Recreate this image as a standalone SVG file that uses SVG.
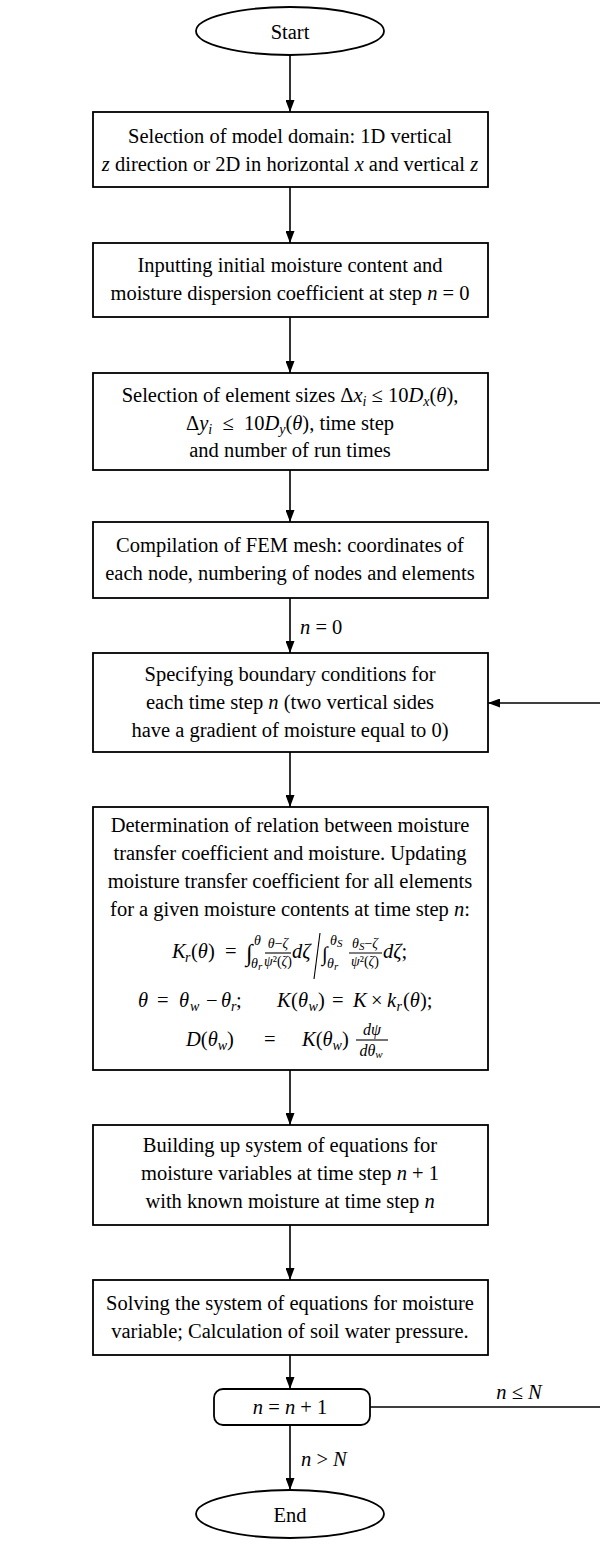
<svg xmlns="http://www.w3.org/2000/svg" width="600" height="1548" viewBox="0 0 600 1548">
<defs>
<marker id="ah" markerWidth="12" markerHeight="9" refX="12" refY="4.5" orient="auto" markerUnits="userSpaceOnUse"><path d="M0,0 L12,4.5 L0,9 z" fill="#000"/></marker>
<style>
.node{fill:#fff;stroke:#000;stroke-width:1.8}
.lbl{font-family:"Liberation Serif","Times New Roman",serif;font-size:20.5px;fill:#000;text-anchor:middle}
.m{font-family:"Liberation Serif","Times New Roman",serif;font-size:20.5px;fill:#000}
.c{text-anchor:middle}
.sm{font-size:14px}
.fr{font-size:16px}
.xs{font-size:11px}
.i{font-style:italic}
.edge{fill:none;stroke:#000;stroke-width:1.6}
.bar{stroke:#000;stroke-width:1.1}
</style>
</defs>
<rect width="600" height="1548" fill="#fff"/>

<!-- connectors -->
<g id="connectors">
<line class="edge" x1="290" y1="55" x2="290" y2="112" marker-end="url(#ah)"/>
<line class="edge" x1="290" y1="187" x2="290" y2="243" marker-end="url(#ah)"/>
<line class="edge" x1="290" y1="317" x2="290" y2="373" marker-end="url(#ah)"/>
<line class="edge" x1="290" y1="470" x2="290" y2="522" marker-end="url(#ah)"/>
<line class="edge" x1="290" y1="598" x2="290" y2="653" marker-end="url(#ah)"/>
<text class="m" x="300" y="634"><tspan class="i">n</tspan> = 0</text>
<line class="edge" x1="290" y1="752" x2="290" y2="807" marker-end="url(#ah)"/>
<line class="edge" x1="290" y1="1070" x2="290" y2="1125" marker-end="url(#ah)"/>
<line class="edge" x1="290" y1="1225" x2="290" y2="1280" marker-end="url(#ah)"/>
<line class="edge" x1="290" y1="1355" x2="290" y2="1389" marker-end="url(#ah)"/>
<line class="edge" x1="290" y1="1425" x2="290" y2="1490" marker-end="url(#ah)"/>
<text class="m" x="301" y="1466"><tspan class="i">n</tspan> &gt; <tspan class="i">N</tspan></text>
<polyline class="edge" points="370,1407 601,1407 601,703 488,703" marker-end="url(#ah)"/>
<text class="m c" x="519" y="1399"><tspan class="i">n</tspan> ≤ <tspan class="i">N</tspan></text>
</g>

<g id="start">
<ellipse class="node" cx="290" cy="31" rx="94" ry="24"/>
<text class="lbl" x="290" y="39">Start</text>
</g>

<g id="domain">
<rect class="node" x="93" y="112" width="395" height="75"/>
<text class="lbl" x="290" y="143">Selection of model domain: 1D vertical</text>
<text class="lbl" x="290" y="171"><tspan class="i">z</tspan> direction or 2D in horizontal <tspan class="i">x</tspan> and vertical <tspan class="i">z</tspan></text>
</g>

<g id="initial">
<rect class="node" x="93" y="243" width="395" height="74"/>
<text class="lbl" x="290" y="272">Inputting initial moisture content and</text>
<text class="lbl" x="290" y="300">moisture dispersion coefficient at step <tspan class="i">n</tspan> = 0</text>
</g>

<g id="sizes">
<rect class="node" x="93" y="373" width="395" height="97"/>
<text class="lbl" x="290" y="402">Selection of element sizes Δ<tspan class="i">x</tspan><tspan class="sm i" dy="4">i</tspan><tspan dy="-4"> ≤ 10</tspan><tspan class="i">D</tspan><tspan class="sm i" dy="4">x</tspan><tspan dy="-4">(</tspan><tspan class="i">θ</tspan>),</text>
<text class="lbl" x="290" y="430" xml:space="preserve">Δ<tspan class="i">y</tspan><tspan class="sm i" dy="4">i</tspan><tspan dy="-4">  ≤  10</tspan><tspan class="i">D</tspan><tspan class="sm i" dy="4">y</tspan><tspan dy="-4">(</tspan><tspan class="i">θ</tspan>), time step</text>
<text class="lbl" x="290" y="457">and number of run times</text>
</g>

<g id="mesh">
<rect class="node" x="93" y="522" width="395" height="76"/>
<text class="lbl" x="290" y="552">Compilation of FEM mesh: coordinates of</text>
<text class="lbl" x="290" y="580">each node, numbering of nodes and elements</text>
</g>

<g id="boundary">
<rect class="node" x="93" y="653" width="395" height="99"/>
<text class="lbl" x="290" y="681">Specifying boundary conditions for</text>
<text class="lbl" x="290" y="709">each time step <tspan class="i">n</tspan> (two vertical sides</text>
<text class="lbl" x="290" y="737">have a gradient of moisture equal to 0)</text>
</g>

<g id="coefficient">
<rect class="node" x="93" y="807" width="395" height="263"/>
<text class="lbl" x="290" y="832">Determination of relation between moisture</text>
<text class="lbl" x="290" y="860">transfer coefficient and moisture. Updating</text>
<text class="lbl" x="290" y="888">moisture transfer coefficient for all elements</text>
<text class="lbl" x="290" y="916">for a given moisture contents at time step <tspan class="i">n</tspan>:</text>
<!-- K_r(theta) as ratio of two integrals -->
<text class="m" y="958"><tspan class="i" x="172">K</tspan><tspan class="sm i" x="185" y="962">r</tspan><tspan x="191" y="958">(</tspan><tspan class="i">θ</tspan><tspan>)</tspan><tspan x="225">=</tspan><tspan x="246" y="961" font-size="24">∫</tspan></text>
<text class="m sm i" x="254" y="945">θ</text>
<text class="m sm i" x="251" y="968">θ<tspan class="xs" dy="2">r</tspan></text>
<text class="m sm i c" x="278" y="948">θ<tspan font-style="normal">−</tspan>ζ</text>
<line class="bar" x1="265" y1="953" x2="291" y2="953"/>
<text class="m sm i c" x="278" y="966">ψ<tspan font-style="normal">²(</tspan>ζ<tspan font-style="normal">)</tspan></text>
<text class="m i" x="292" y="958">dζ</text>
<line class="bar" x1="320" y1="933" x2="314" y2="979" stroke-width="1.8"/>
<text class="m" x="322" y="961" font-size="24">∫</text>
<text class="m sm i" x="330" y="945">θ<tspan class="xs" dy="2">S</tspan></text>
<text class="m sm i" x="327" y="968">θ<tspan class="xs" dy="2">r</tspan></text>
<text class="m sm i c" x="365" y="948">θ<tspan class="xs" dy="2">S</tspan><tspan font-style="normal" dy="-2">−</tspan>ζ</text>
<line class="bar" x1="349" y1="953" x2="382" y2="953"/>
<text class="m sm i c" x="365" y="966">ψ<tspan font-style="normal">²(</tspan>ζ<tspan font-style="normal">)</tspan></text>
<text class="m i" x="383" y="958">dζ<tspan font-style="normal">;</tspan></text>
<!-- theta and K(theta_w) -->
<text class="m" y="1007"><tspan class="i" x="138">θ</tspan><tspan x="157">=</tspan><tspan class="i" x="179">θ</tspan><tspan class="sm i" x="190" y="1011">w</tspan><tspan x="206" y="1007">−</tspan><tspan class="i" x="221">θ</tspan><tspan class="sm i" x="231" y="1011">r</tspan><tspan x="236" y="1007">;</tspan><tspan class="i" x="277">K</tspan><tspan x="291">(</tspan><tspan class="i" x="298">θ</tspan><tspan class="sm i" x="308.5" y="1011">w</tspan><tspan x="318" y="1007">)</tspan><tspan x="332">=</tspan><tspan class="i" x="353">K</tspan><tspan x="371">×</tspan><tspan class="i" x="387">k</tspan><tspan class="sm i" x="396.5" y="1011">r</tspan><tspan x="403" y="1007">(</tspan><tspan class="i">θ</tspan><tspan>);</tspan></text>
<!-- D(theta_w) -->
<text class="m" y="1046"><tspan class="i" x="186">D</tspan><tspan>(</tspan><tspan class="i">θ</tspan><tspan class="sm i" dy="4">w</tspan><tspan dy="-4">)</tspan><tspan x="264">=</tspan><tspan class="i" x="302">K</tspan><tspan>(</tspan><tspan class="i">θ</tspan><tspan class="sm i" dy="4">w</tspan><tspan dy="-4">)</tspan></text>
<text class="m fr i c" x="372" y="1035">dψ</text>
<line class="bar" x1="356" y1="1040" x2="388" y2="1040"/>
<text class="m fr i c" x="371" y="1056">dθ<tspan class="xs" dy="2">w</tspan></text>
</g>

<g id="system">
<rect class="node" x="93" y="1125" width="395" height="100"/>
<text class="lbl" x="290" y="1152">Building up system of equations for</text>
<text class="lbl" x="290" y="1180">moisture variables at time step <tspan class="i">n</tspan> + 1</text>
<text class="lbl" x="290" y="1208">with known moisture at time step <tspan class="i">n</tspan></text>
</g>

<g id="solve">
<rect class="node" x="93" y="1280" width="395" height="75"/>
<text class="lbl" x="290" y="1310">Solving the system of equations for moisture</text>
<text class="lbl" x="290" y="1338">variable; Calculation of soil water pressure.</text>
</g>

<g id="increment">
<rect class="node" x="214" y="1389" width="156" height="36" rx="9"/>
<text class="lbl" x="290" y="1414"><tspan class="i">n</tspan> = <tspan class="i">n</tspan> + 1</text>
</g>

<g id="end">
<ellipse class="node" cx="290" cy="1514" rx="94" ry="24"/>
<text class="lbl" x="290" y="1522">End</text>
</g>
</svg>
